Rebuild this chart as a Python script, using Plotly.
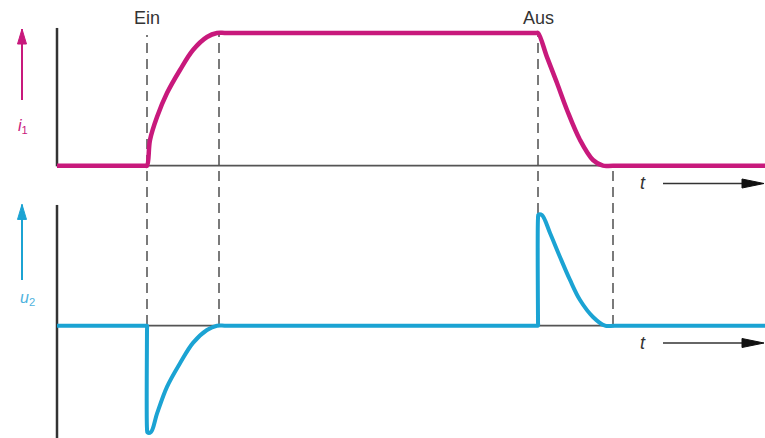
import plotly.graph_objects as go

# --- time axis (arbitrary units, 0 = left axis line) ---
T_END = 70.8
t_events = [9.0, 16.2, 48.1, 55.6]          # Ein, settled, Aus, settled

# primary current i1 (normalised, 1 = steady state)
t_i1 = [0, 8.8, 9.0, 9.3, 10.0, 11.0, 12.3, 13.6, 15.0, 16.0, 17.0,
        47.9, 48.1, 49.0, 50.0, 51.0, 52.3, 53.6, 54.6, 55.6, T_END]
i1 = [0, 0, 0, 0.194, 0.367, 0.547, 0.721, 0.872, 0.970, 1.0, 1.0,
      1.0, 1.0, 0.818, 0.623, 0.420, 0.194, 0.043, 0, 0, 0]

# induced voltage u2 (normalised, -1 = peak on switching on)
t_u2 = [0, 8.95, 9.0, 9.0, 9.0, 9.05, 9.4, 10.0, 11.0, 12.3, 13.6, 15.0, 16.0, 17.0,
        48.05, 48.1, 48.1, 48.1, 48.15, 48.5, 49.3, 50.3, 51.3, 52.3, 53.6, 54.8, 55.8, T_END]
u2 = [0, 0, 0, -0.04, -0.96, -0.995, -0.99, -0.82, -0.57, -0.35, -0.16, -0.04, 0, 0,
      0, 0, 0.04, 1.0, 1.035, 1.03, 0.864, 0.64, 0.426, 0.239, 0.081, 0, 0, 0]

event_labels = {9.0: "Ein", 48.1: "Aus"}

PINK = "#c8197c"
BLUE = "#1ba3d3"
BLUE_TXT = "#4fb3de"
DARK = "#333333"
GREY = "#7a7a7a"
FONT = "Liberation Sans"

fig = go.Figure()
fig.add_trace(go.Scatter(x=t_i1, y=i1, mode="lines", yaxis="y",
                         line=dict(color=PINK, width=4.5, shape="spline", smoothing=1),
                         hoverinfo="skip"))
fig.add_trace(go.Scatter(x=t_u2, y=u2, mode="lines", yaxis="y2",
                         line=dict(color=BLUE, width=4, shape="spline", smoothing=1),
                         hoverinfo="skip"))

shapes = []
# vertical axis lines
shapes.append(dict(type="line", xref="x", yref="y", x0=0, x1=0, y0=-0.005, y1=1.038,
                   line=dict(color=DARK, width=2.5), layer="below"))
shapes.append(dict(type="line", xref="x", yref="y2", x0=0, x1=0, y0=-1.06, y1=1.125,
                   line=dict(color=DARK, width=2.5), layer="below"))
# zero lines
for yr in ("y", "y2"):
    shapes.append(dict(type="line", xref="x", yref=yr, x0=0, x1=T_END, y0=0, y1=0,
                       line=dict(color="#555555", width=1.8), layer="below"))
# dashed event markers
for k, te in enumerate(t_events):
    top = 0.920 if k < 3 else 0.617
    shapes.append(dict(type="line", xref="x", yref="paper", x0=te, x1=te,
                       y0=0.258, y1=top,
                       line=dict(color=GREY, width=2, dash="10px,6px"), layer="below"))


def up_arrow(x, y0, y1, yref, color):
    """Quantity arrow pointing up along the ordinate direction."""
    shapes.append(dict(type="line", xref="x", yref=yref, x0=x, x1=x, y0=y0, y1=y1,
                       line=dict(color=color, width=2)))
    shapes.append(dict(type="path", xref="x", yref=yref, xsizemode="pixel",
                       ysizemode="pixel", xanchor=x, yanchor=y1,
                       path="M -4.5 -15 L 0 0 L 4.5 -15 Z",
                       fillcolor=color, line=dict(color=color, width=1)))


def t_arrow(yp):
    """Time arrow at paper height yp."""
    shapes.append(dict(type="line", xref="x", yref="paper", x0=60.6, x1=69.0,
                       y0=yp, y1=yp, line=dict(color=DARK, width=1.5)))
    shapes.append(dict(type="path", xref="x", yref="paper", xsizemode="pixel",
                       ysizemode="pixel", xanchor=70.7, yanchor=yp,
                       path="M -22 4.5 L 0 0 L -22 -4.5 Z",
                       fillcolor="#111111", line=dict(color="#111111", width=1)))


up_arrow(-3.5, 0.495, 1.03, "y", PINK)
up_arrow(-3.5, 0.426, 1.13, "y2", BLUE)

t_rows = [1 - 183.5 / 438, 1 - 343 / 438]
for yp in t_rows:
    t_arrow(yp)

annotations = []
for te, lab in event_labels.items():
    annotations.append(dict(x=te, y=1 - 18 / 438, xref="x", yref="paper", text=lab,
                            showarrow=False, xanchor="center", yanchor="middle",
                            font=dict(size=18, color=DARK, family=FONT)))
annotations.append(dict(x=-3.4, y=1 - 126 / 438, xref="x", yref="paper",
                        text="<i>i</i><sub>1</sub>", showarrow=False,
                        xanchor="center", yanchor="middle",
                        font=dict(size=16, color=PINK, family=FONT)))
annotations.append(dict(x=-3.0, y=1 - 298 / 438, xref="x", yref="paper",
                        text="<i>u</i><sub>2</sub>", showarrow=False,
                        xanchor="center", yanchor="middle",
                        font=dict(size=16, color=BLUE_TXT, family=FONT)))
for yp in t_rows:
    annotations.append(dict(x=58.6, y=yp, xref="x", yref="paper",
                            text="<i>t</i>", showarrow=False,
                            xanchor="center", yanchor="middle",
                            font=dict(size=18, color=DARK, family=FONT)))

fig.update_layout(
    width=765, height=438,
    margin=dict(l=0, r=0, t=0, b=0),
    paper_bgcolor="white", plot_bgcolor="white",
    showlegend=False,
    xaxis=dict(range=[-5.7, T_END], visible=False, fixedrange=True),
    yaxis=dict(range=[-2.052, 1.2487], visible=False, fixedrange=True),
    yaxis2=dict(range=[-1.0466, 3.035], visible=False, overlaying="y", fixedrange=True),
    shapes=shapes,
    annotations=annotations,
)

fig.write_html("out.html", config={"displayModeBar": False})
